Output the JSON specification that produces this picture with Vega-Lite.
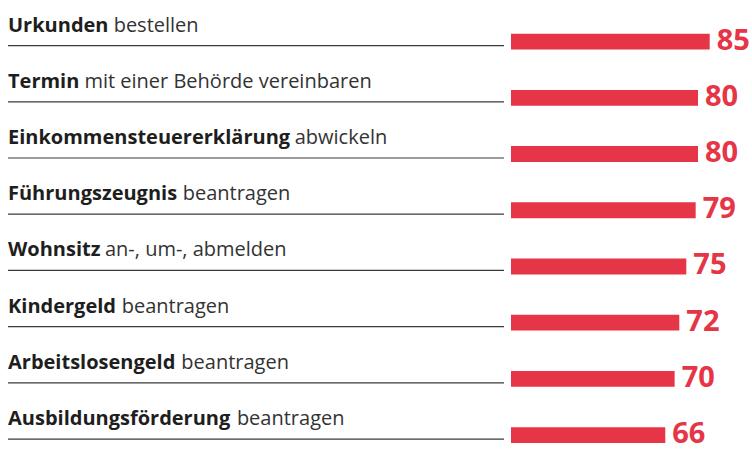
{
  "$schema": "https://vega.github.io/schema/vega-lite/v6.json",
  "width": 752,
  "height": 450,
  "autosize": {"type": "fit", "contains": "padding"},
  "padding": 0,
  "background": "white",
  "config": {"view": {"stroke": null}, "font": "Open Sans"},
  "data": {"values": [
    {"bold": "Urkunden", "rest": "bestellen", "value": 85},
    {"bold": "Termin", "rest": "mit einer Behörde vereinbaren", "value": 80},
    {"bold": "Einkommensteuererklärung", "rest": "abwickeln", "value": 80},
    {"bold": "Führungszeugnis", "rest": "beantragen", "value": 79},
    {"bold": "Wohnsitz", "rest": "an-, um-, abmelden", "value": 75},
    {"bold": "Kindergeld", "rest": "beantragen", "value": 72},
    {"bold": "Arbeitslosengeld", "rest": "beantragen", "value": 70},
    {"bold": "Ausbildungsförderung", "rest": "beantragen", "value": 66}
  ]},
  "transform": [
    {"calculate": "datum.bold + ' ' + datum.rest", "as": "label"},
    {"calculate": "0.30 * length(replace(datum.bold, regexp('[^ijl]', 'g'), '')) + 0.40 * length(replace(datum.bold, regexp('[^f]', 'g'), '')) + 0.43 * length(replace(datum.bold, regexp('[^t]', 'g'), '')) + 0.45 * length(replace(datum.bold, regexp('[^r]', 'g'), '')) + 0.51 * length(replace(datum.bold, regexp('[^sc]', 'g'), '')) + 0.48 * length(replace(datum.bold, regexp('[^z]', 'g'), '')) + 0.57 * length(replace(datum.bold, regexp('[^g]', 'g'), '')) + 0.59 * length(replace(datum.bold, regexp('[^e]', 'g'), '')) + 0.60 * length(replace(datum.bold, regexp('[^aä]', 'g'), '')) + 0.62 * length(replace(datum.bold, regexp('[^oök]', 'g'), '')) + 0.645 * length(replace(datum.bold, regexp('[^bdpq]', 'g'), '')) + 0.656 * length(replace(datum.bold, regexp('[^nuüh]', 'g'), '')) + 0.91 * length(replace(datum.bold, regexp('[^w]', 'g'), '')) + 0.977 * length(replace(datum.bold, regexp('[^m]', 'g'), '')) + 0.734 * length(replace(datum.bold, regexp('[^U]', 'g'), '')) + 0.573 * length(replace(datum.bold, regexp('[^T]', 'g'), '')) + 0.545 * length(replace(datum.bold, regexp('[^EF]', 'g'), '')) + 0.92 * length(replace(datum.bold, regexp('[^W]', 'g'), '')) + 0.662 * length(replace(datum.bold, regexp('[^K]', 'g'), '')) + 0.684 * length(replace(datum.bold, regexp('[^A]', 'g'), ''))", "as": "boldEm"},
    {"calculate": "8 + 20 * datum.boldEm + 5.5", "as": "restX"}
  ],
  "encoding": {
    "y": {"field": "label", "type": "nominal", "sort": null, "axis": null,
          "scale": {"paddingInner": 0.7179, "paddingOuter": 0.326, "align": 0.919}}
  },
  "layer": [
    {
      "mark": {"type": "rule", "color": "#3a3a3a", "strokeWidth": 1.2},
      "encoding": {
        "y": {"field": "label", "type": "nominal", "sort": null, "bandPosition": 0.75},
        "x": {"value": 8},
        "x2": {"value": 504}
      }
    },
    {
      "mark": {"type": "bar", "color": "#e63546"},
      "encoding": {
        "x": {"field": "value", "type": "quantitative", "axis": null,
              "scale": {"domain": [-218.6, 103.1], "nice": false, "zero": false}}
      }
    },
    {
      "mark": {"type": "text", "align": "left", "baseline": "alphabetic", "dx": 7, "dy": 8,
               "font": "Open Sans", "fontWeight": "bold", "fontSize": 29, "color": "#e63546"},
      "encoding": {
        "x": {"field": "value", "type": "quantitative"},
        "text": {"field": "value", "type": "quantitative"}
      }
    },
    {
      "mark": {"type": "text", "align": "left", "baseline": "alphabetic", "dy": -10,
               "font": "Open Sans", "fontWeight": "bold", "fontSize": 20, "color": "#1e1e1e"},
      "encoding": {
        "x": {"value": 8},
        "text": {"field": "bold", "type": "nominal"}
      }
    },
    {
      "mark": {"type": "text", "align": "left", "baseline": "alphabetic", "dy": -10,
               "font": "Open Sans", "fontWeight": "normal", "fontSize": 20, "color": "#333333"},
      "encoding": {
        "x": {"field": "restX", "type": "quantitative", "scale": null},
        "text": {"field": "rest", "type": "nominal"}
      }
    }
  ]
}
